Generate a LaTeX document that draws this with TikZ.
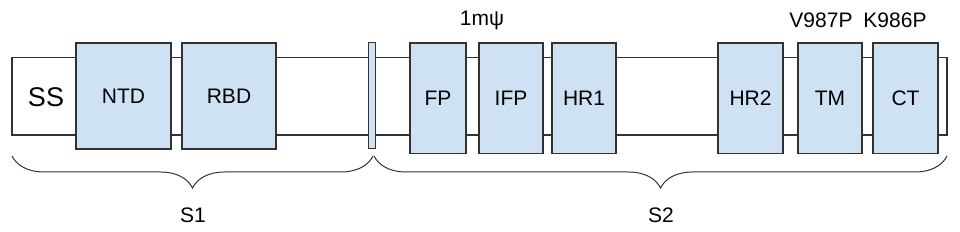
\documentclass[tikz,border=0pt]{standalone}
\usepackage{fontspec}
\setmainfont{Liberation Sans}
\usetikzlibrary{decorations.pathreplacing}
\definecolor{DomBlue}{RGB}{207, 226, 243}
\definecolor{DomLine}{RGB}{50, 50, 50}

\begin{document}
\begin{tikzpicture}[x=1pt, y=-1pt, every node/.style={font=\fontsize{21}{23}\selectfont, inner sep=0pt},
  dombox/.style={draw=DomLine, line width=1.2pt, fill=DomBlue, minimum height=106pt},
  tallbox/.style={dombox, minimum height=110.5pt},
  spike/.style={draw=DomLine, line width=1pt, decorate, decoration={brace, mirror, amplitude=32pt, aspect=0.5}}]
\useasboundingbox (0,0) rectangle (960,232);
% backbone
\node[draw=DomLine, line width=1.2pt, fill=white, minimum width=935pt, minimum height=77.3pt] (chain) at (479.5,96.3) {};
\node[font=\fontsize{27}{29}\selectfont] (ss) at (46,97) {SS};

% S1 domains
\node[dombox, minimum width=95pt] (ntd) at (123.5,96) {NTD};
\node[dombox, minimum width=94pt] (rbd) at (229,96) {RBD};
\node[dombox, minimum width=7pt, line width=1pt] (cut) at (371.5,96) {};

% S2 domains
\node[tallbox, minimum width=56pt] (fp) at (438,98.2) {FP};
\node[tallbox, minimum width=64pt] (ifp) at (511,98.2) {IFP};
\node[tallbox, minimum width=64pt] (hr1) at (584,98.2) {HR1};
\node[tallbox, minimum width=65pt] (hr2) at (750.5,98.2) {HR2};
\node[tallbox, minimum width=64pt] (tm) at (830,98.2) {TM};
\node[tallbox, minimum width=65pt] (ct) at (905.5,98.2) {CT};

% mutations
\node (mpsi) at (482,20) {1mψ};
\node (v987) at (821,20) {V987P};
\node (k986) at (895,20) {K986P};

% braces
\coordinate (b1l) at (12,156);
\coordinate (b1r) at (373,156);
\coordinate (b2l) at (374,156);
\coordinate (b2r) at (947,156);
\draw[spike] (b1l) -- (b1r);
\draw[spike] (b2l) -- (b2r);
\node (s1) at (193,215) {S1};
\node (s2) at (661,215) {S2};
\end{tikzpicture}
\end{document}
